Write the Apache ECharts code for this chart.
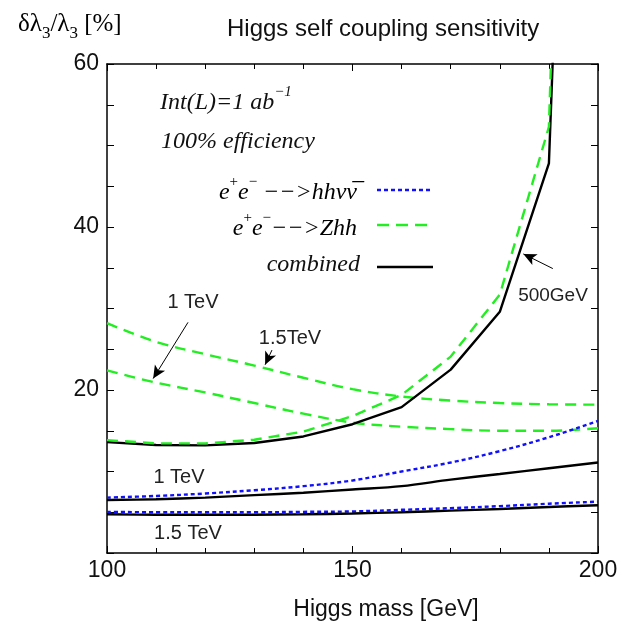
<!DOCTYPE html>
<html>
<head>
<meta charset="utf-8">
<script src="https://cdn.jsdelivr.net/npm/echarts@6/dist/echarts.min.js"></script>
<style>html,body{margin:0;padding:0;background:#fff;}#c{width:633px;height:630px;}</style>
</head>
<body>
<div id="c"></div>
<script>
// ---- data ----
const mass = [100, 110, 120, 130, 140, 150, 160, 170, 180, 190, 200];
const mass500 = [100, 110, 120, 130, 140, 150, 160, 170, 180, 190, 192];
const zhh500 = [13.85, 13.45, 13.45, 13.9, 14.9, 16.8, 19.4, 24.1, 31.7, 52.3, 90];
const comb500 = [13.6, 13.25, 13.2, 13.5, 14.3, 15.8, 17.9, 22.5, 29.6, 47.8, 80];
const zhh1TeV = [22.4, 20.9, 19.7, 18.4, 17.1, 16.0, 15.5, 15.2, 15.0, 15.0, 15.3];
const zhh15TeV = [28.2, 25.9, 24.4, 23.0, 21.5, 20.1, 19.2, 18.7, 18.4, 18.25, 18.2];
const hhvv1TeV = [6.8, 7.0, 7.3, 7.7, 8.2, 8.9, 10.0, 11.1, 12.5, 14.2, 16.2];
const comb1TeV = [6.5, 6.6, 6.8, 7.1, 7.4, 7.8, 8.2, 9.0, 9.7, 10.4, 11.1];
const hhvv15TeV = [5.05, 5.0, 5.0, 5.0, 5.05, 5.1, 5.3, 5.5, 5.75, 6.05, 6.3];
const comb15TeV = [4.75, 4.7, 4.7, 4.7, 4.75, 4.85, 5.0, 5.2, 5.4, 5.65, 5.85];
const xLabels = [100, 150, 200];
const yLabels = [20, 40, 60];
// annotation arrows [from, to] in data coordinates
const arrow1TeV = [[116.5, 28.3], [109.4, 21.4]];
const arrow15TeV = [[133.6, 24.9], [132.2, 23.1]];
const arrow500 = [[190.8, 34.9], [184.8, 36.7]];

const pairs = (xs, ys) => xs.map((x, i) => [x, ys[i]]);

const BLUE = '#1010ff', GREEN = '#22ee22', BLACK = '#000';
const serif = '"Liberation Serif", "Times New Roman", serif';
const sans = '"Liberation Sans", Arial, sans-serif';

function lineSeries(name, data, color, type, smooth) {
  return {
    type: 'line', name, data, showSymbol: false, symbol: 'none', smooth: smooth || false,
    lineStyle: { color, width: 2.4, type }, clip: true, z: 3, animation: false
  };
}
function arrowLine(a) {
  return [{ coord: a[0] }, { coord: a[1] }];
}

const chart = echarts.init(document.getElementById('c'), null, { renderer: 'canvas' });

const axisCommon = {
  axisLine: { show: true, onZero: false, lineStyle: { color: '#000', width: 1.5 } },
  axisTick: { show: true, inside: true, length: 7, lineStyle: { color: '#000', width: 1 } },
  minorTick: { show: true, length: 5, lineStyle: { color: '#000', width: 1 } },
  splitLine: { show: false }
};

const supStyle = { fontFamily: serif, fontStyle: 'normal', fontSize: 15, verticalAlign: 'top', lineHeight: 30 };
const legText = { fontFamily: serif, fontStyle: 'italic', fontSize: 24, lineHeight: 30, verticalAlign: 'bottom' };

chart.setOption({
  animation: false,
  backgroundColor: '#fff',
  grid: { left: 107, right: 35, top: 64, bottom: 77, containLabel: false },
  xAxis: [
    Object.assign({
      type: 'value', min: 100, max: 200, interval: 50, position: 'bottom',
      minorTick: Object.assign({}, axisCommon.minorTick, { splitNumber: 5 }),
      axisLabel: {
        show: true, fontFamily: sans, fontSize: 23, color: '#111', margin: 6,
        formatter: v => xLabels.indexOf(v) >= 0 ? String(v) : ''
      }
    }, { axisLine: axisCommon.axisLine, axisTick: axisCommon.axisTick, splitLine: axisCommon.splitLine }),
    Object.assign({
      type: 'value', min: 100, max: 200, interval: 50, position: 'top',
      minorTick: Object.assign({}, axisCommon.minorTick, { splitNumber: 5 }),
      axisLabel: { show: false }
    }, { axisLine: axisCommon.axisLine, axisTick: axisCommon.axisTick, splitLine: axisCommon.splitLine })
  ],
  yAxis: [
    Object.assign({
      type: 'value', min: 0, max: 60, interval: 20, position: 'left',
      minorTick: Object.assign({}, axisCommon.minorTick, { splitNumber: 4, length: 7 }),
      axisLabel: {
        show: true, fontFamily: sans, fontSize: 23, color: '#111', margin: 8,
        formatter: v => yLabels.indexOf(v) >= 0 ? String(v) : ''
      }
    }, { axisLine: axisCommon.axisLine, axisTick: axisCommon.axisTick, splitLine: axisCommon.splitLine }),
    Object.assign({
      type: 'value', min: 0, max: 60, interval: 20, position: 'right',
      minorTick: Object.assign({}, axisCommon.minorTick, { splitNumber: 4, length: 7 }),
      axisLabel: { show: false }
    }, { axisLine: axisCommon.axisLine, axisTick: axisCommon.axisTick, splitLine: axisCommon.splitLine })
  ],
  title: {
    text: 'Higgs self coupling sensitivity', left: 222, top: 12,
    textStyle: { fontFamily: sans, fontSize: 24, fontWeight: 'normal', color: '#111' }
  },
  series: [
    lineSeries('zhh15', pairs(mass, zhh15TeV), GREEN, [11, 7], 0.35),
    lineSeries('zhh1', pairs(mass, zhh1TeV), GREEN, [11, 7], 0.35),
    lineSeries('hhvv1', pairs(mass, hhvv1TeV), BLUE, [4, 3], 0.35),
    lineSeries('hhvv15', pairs(mass, hhvv15TeV), BLUE, [4, 3], 0.35),
    lineSeries('comb1', pairs(mass, comb1TeV), BLACK, 'solid', 0.35),
    lineSeries('comb15', pairs(mass, comb15TeV), BLACK, 'solid', 0.35),
    lineSeries('comb500', pairs(mass500, comb500), BLACK, 'solid'),
    lineSeries('zhh500', pairs(mass500, zhh500), GREEN, [11, 7]),
    {
      type: 'line', data: [], silent: true,
      markLine: {
        silent: true, symbol: ['none', 'arrow'], symbolSize: [9, 13], animation: false,
        label: { show: false },
        lineStyle: { color: '#000', width: 1, type: 'solid' },
        data: [arrowLine(arrow1TeV), arrowLine(arrow15TeV), arrowLine(arrow500)]
      }
    }
  ],
  graphic: [
    // y axis name
    { type: 'text', left: 18, top: 12, style: {
      text: '{m|δλ}{s|3}{m|/λ}{s|3}{m| [%]}',
      rich: {
        m: { fontFamily: serif, fontSize: 25, color: '#111', lineHeight: 30, verticalAlign: 'top' },
        s: { fontFamily: serif, fontSize: 17, color: '#111', lineHeight: 30, verticalAlign: 'bottom' }
      } } },
    // x axis name
    { type: 'text', x: 386, y: 610, style: {
      text: 'Higgs mass [GeV]', fontFamily: sans, fontSize: 23, fill: '#111', align: 'center', verticalAlign: 'middle' } },
    // info texts
    { type: 'text', x: 160, y: 100, style: {
      text: '{i|Int(L)=1 ab}{p|−1}',
      verticalAlign: 'middle',
      rich: {
        i: { fontFamily: serif, fontStyle: 'italic', fontSize: 24, fill: '#111', lineHeight: 30, verticalAlign: 'bottom' },
        p: { fontFamily: serif, fontStyle: 'italic', fontSize: 15, fill: '#111', lineHeight: 30, verticalAlign: 'top' }
      } } },
    { type: 'text', x: 161, y: 142, style: {
      text: '100% efficiency', fontFamily: serif, fontStyle: 'italic', fontSize: 24, fill: '#111', verticalAlign: 'middle' } },
    // legend texts
    { type: 'text', x: 357, y: 190, style: {
      text: '{t|e}{p|+}{t|e}{p|−}{t| −−>hhνν\u0305}', align: 'right', verticalAlign: 'middle',
      rich: { t: legText, p: supStyle } } },
    { type: 'text', x: 357, y: 226, style: {
      text: '{t|e}{p|+}{t|e}{p|−}{t|−−>Zhh}', align: 'right', verticalAlign: 'middle',
      rich: { t: legText, p: supStyle } } },
    { type: 'text', x: 360, y: 265, style: {
      text: 'combined', fontFamily: serif, fontStyle: 'italic', fontSize: 24, fill: '#111', align: 'right', verticalAlign: 'middle' } },
    // legend lines
    { type: 'line', shape: { x1: 377, y1: 190, x2: 431, y2: 190 }, style: { stroke: BLUE, lineWidth: 2.4, lineDash: [4, 3] } },
    { type: 'line', shape: { x1: 377, y1: 225, x2: 433, y2: 225 }, style: { stroke: GREEN, lineWidth: 2.6, lineDash: [12, 7] } },
    { type: 'line', shape: { x1: 377, y1: 267, x2: 433, y2: 267 }, style: { stroke: BLACK, lineWidth: 2.6 } },
    // curve annotations
    { type: 'text', x: 193, y: 302, style: { text: '1 TeV', fontFamily: sans, fontSize: 20, fill: '#222', align: 'center', verticalAlign: 'middle' } },
    { type: 'text', x: 290, y: 338, style: { text: '1.5TeV', fontFamily: sans, fontSize: 20, fill: '#222', align: 'center', verticalAlign: 'middle' } },
    { type: 'text', x: 553, y: 296, style: { text: '500GeV', fontFamily: sans, fontSize: 19, fill: '#222', align: 'center', verticalAlign: 'middle' } },
    { type: 'text', x: 179, y: 477, style: { text: '1 TeV', fontFamily: sans, fontSize: 20, fill: '#222', align: 'center', verticalAlign: 'middle' } },
    { type: 'text', x: 188, y: 533, style: { text: '1.5 TeV', fontFamily: sans, fontSize: 20, fill: '#222', align: 'center', verticalAlign: 'middle' } }
  ]
});
</script>
</body>
</html>
